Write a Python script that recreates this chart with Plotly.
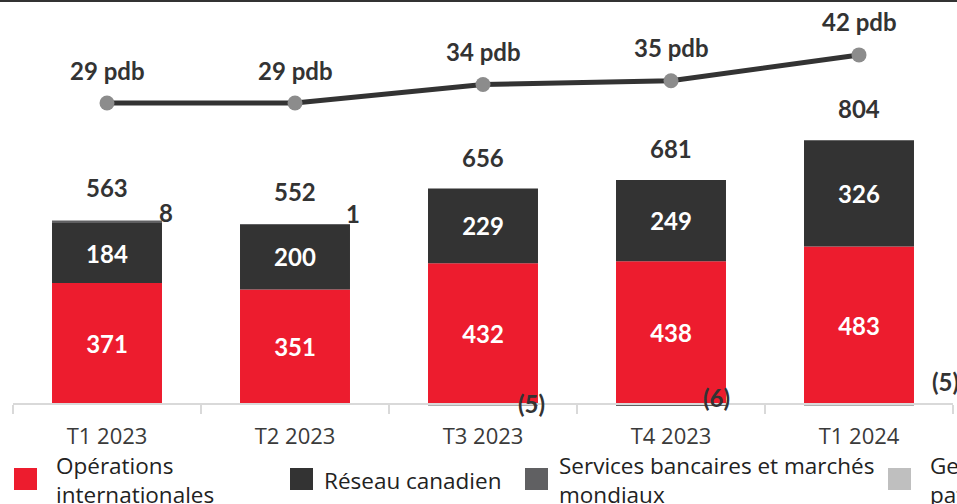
import plotly.graph_objects as go

# quarters and values (M$)
quarters = ['T1 2023', 'T2 2023', 'T3 2023', 'T4 2023', 'T1 2024']
intl = [371, 351, 432, 438, 483]          # Opérations internationales
canada = [184, 200, 229, 249, 326]        # Réseau canadien
gbm = [8, 1, -5, -6, -5]                  # Services bancaires et marchés mondiaux
wealth = [0, 0, 0, 0, 0]                  # Gestion de patrimoine
totals = [563, 552, 656, 681, 804]
pdb = [29, 29, 34, 35, 42]

names = ['Opérations<br>internationales', 'Réseau canadien',
         'Services bancaires et marchés<br>mondiaux', 'Gestion de<br>patrimoine mondiale']
colors = ['#ed1c2e', '#333333', '#606062', '#bfbfbf']

W, H = 957, 504
ML, MR, MT, MB = 13, 4, 0, 90
PLOT_H = H - MT - MB
BOLD = 'Lato'
REG = 'Open Sans'

def py(p):
    # pixel row -> paper y
    return (H - MB - p) / PLOT_H

def px(p):
    return (p - ML) / (W - ML - MR)

yr = [-30.7, 1239]
y2r = [-55.05, 56.84]

fig = go.Figure()
for vals, name, col, lab in zip([intl, canada, gbm, wealth], names, colors,
                                [True, True, False, False]):
    fig.add_bar(x=quarters, y=vals, name=name, marker_color=col,
                marker_line_width=0, showlegend=False,
                text=vals if lab else None,
                textposition='inside' if lab else 'none',
                insidetextanchor='middle', textangle=0,
                textfont=dict(family=BOLD, size=24, color='white', weight='bold'))

fig.add_scatter(x=quarters, y=pdb, yaxis='y2', mode='lines+markers',
                line=dict(color='#333333', width=5),
                marker=dict(color='#8c8c8c', size=15),
                showlegend=False)

ann = []
lab_font = dict(family=BOLD, size=24, color='#333333', weight='bold')
for q, t in zip(quarters, totals):
    ann.append(dict(x=q, y=t, yref='y', text=str(t), showarrow=False,
                    yshift=33, font=lab_font))
for q, v in zip(quarters, pdb):
    ann.append(dict(x=q, y=v, yref='y2', text=f'{v} pdb', showarrow=False,
                    yshift=33, font=lab_font))

# small GBM labels sit beside the bars
gbm_shift = [(59, 8), (58, 11), (48, 0), (45, 6), (86, 22)]
for q, v, t, (dx, dy) in zip(quarters, gbm, totals, gbm_shift):
    txt = str(v) if v >= 0 else f'({-v})'
    ann.append(dict(x=q, y=t if v > 0 else 0, yref='y', text=txt, showarrow=False,
                    xshift=dx, yshift=dy, font=lab_font))

# legend drawn by hand
shapes = []
sq_x = [14, 290, 525, 888]
tx_x = [54, 322, 557, 928]
for col, name, sx, tx in zip(colors, names, sq_x, tx_x):
    shapes.append(dict(type='rect', xref='paper', yref='paper',
                       x0=px(sx), x1=px(sx + 23), y0=py(490), y1=py(468),
                       fillcolor=col, line_width=0))
    ann.append(dict(x=px(tx), y=py(480), xref='paper', yref='paper', text=name,
                    showarrow=False, xanchor='left', yanchor='middle', align='left',
                    font=dict(family=REG, size=22.5, color='#222222')))

# top rule
shapes.append(dict(type='line', xref='paper', yref='paper', x0=-0.02, x1=1.02,
                   y0=py(0), y1=py(0), line=dict(color='#333333', width=4)))

fig.update_layout(
    width=W, height=H, barmode='relative', bargap=0.415,
    margin=dict(l=ML, r=MR, t=MT, b=MB),
    plot_bgcolor='white', paper_bgcolor='white',
    annotations=ann, shapes=shapes,
    xaxis=dict(anchor='free', position=(0 - yr[0]) / (yr[1] - yr[0]),
               range=[-0.5, 4.5], showline=True, linecolor='#d9d9d9', linewidth=2,
               ticks='outside', tickson='boundaries', ticklen=9, tickcolor='#d9d9d9',
               tickwidth=2, ticklabelstandoff=13,
               tickfont=dict(family=REG, size=22, color='#3a3a3a'),
               showgrid=False),
    yaxis=dict(range=yr, visible=False, showgrid=False, zeroline=False),
    yaxis2=dict(range=y2r, overlaying='y', visible=False, showgrid=False, zeroline=False),
)

fig.write_html('out.html', config={'displayModeBar': False},
               post_script="document.body.style.margin='0';")
